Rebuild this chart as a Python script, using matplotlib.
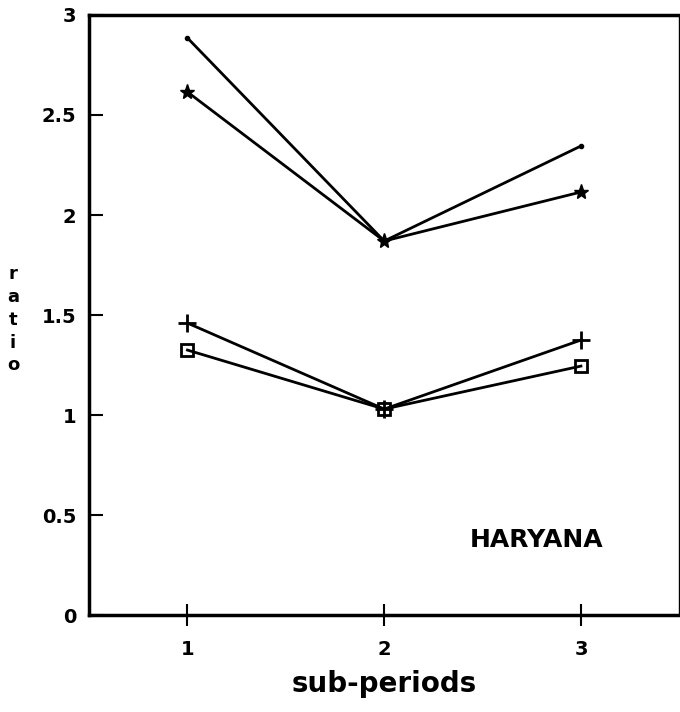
import matplotlib.pyplot as plt

plt.rcParams['font.family'] = ['DejaVu Sans']
plt.rcParams['font.weight'] = 'bold'

# sub-periods and ratio series
periods = [1, 2, 3]
dot_series = [2.885, 1.87, 2.345]
star_series = [2.615, 1.87, 2.115]
plus_series = [1.46, 1.03, 1.375]
square_series = [1.325, 1.03, 1.245]
yticks = [0, 0.5, 1, 1.5, 2, 2.5, 3]
ytick_labels = ["0", "0.5", "1", "1.5", "2", "2.5", "3"]

fig = plt.figure(figsize=(6.8, 7.12), dpi=100)
ax = fig.add_axes([0.131, 0.136, 0.868, 0.843])

ax.plot(periods, dot_series, color="black", lw=2, marker="o", markersize=3)
ax.plot(periods, star_series, color="black", lw=2, marker="*", markersize=11)
ax.plot(periods, plus_series, color="black", lw=2, marker="+", markersize=13, markeredgewidth=2)
ax.plot(periods, square_series, color="black", lw=2, marker="s", markersize=8,
        fillstyle="none", markeredgewidth=2)

ax.set_xlim(0.5, 3.5)
ax.set_ylim(0, 3)
ax.set_xticks(periods)
ax.set_xticklabels(["1", "2", "3"], fontsize=14, fontweight="bold")
ax.set_yticks(yticks)
ax.set_yticklabels(ytick_labels, fontsize=14, fontweight="bold")
ax.tick_params(axis="y", direction="in", length=10, width=1.5, pad=9)
ax.tick_params(axis="x", direction="inout", length=16, width=1.5, pad=10)

for side in ["left", "bottom", "top"]:
    ax.spines[side].set_linewidth(2.5)
ax.spines["right"].set_linewidth(1)

ax.set_xlabel("sub-periods", fontsize=20, fontweight="bold", labelpad=8)
fig.text(0.019, 0.551, "r\na\nt\ni\no", fontsize=13, fontweight="bold",
         ha="center", va="center", linespacing=1.35)

ax.text(2.776, 0.375, "HARYANA", fontsize=18, fontweight="bold", ha="center", va="center")

fig.savefig("out.png", dpi=100)
